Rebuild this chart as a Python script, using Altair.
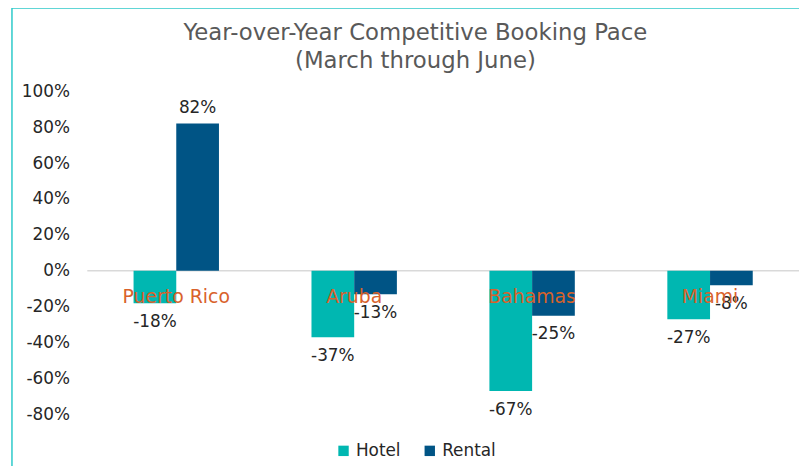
import altair as alt
import pandas as pd

categories = ["Puerto Rico", "Aruba", "Bahamas", "Miami"]
series = ["Hotel", "Rental"]
hotel = [-18, -37, -67, -27]
rental = [82, -13, -25, -8]
colors = ["#00B7B1", "#005485"]
y_ticks = [-80, -60, -40, -20, 0, 20, 40, 60, 80, 100]

rows = []
for c, h, r in zip(categories, hotel, rental):
    rows.append({"cat": c, "series": "Hotel", "value": h, "label": f"{h}%"})
    rows.append({"cat": c, "series": "Rental", "value": r, "label": f"{r}%"})
df = pd.DataFrame(rows)
df["pos"] = df["value"] >= 0
cat_df = pd.DataFrame({"cat": categories, "value": [0] * len(categories)})

W, H = 718, 326
FONT = "DejaVu Sans"
FS = 17

xscale = alt.Scale(domain=categories, paddingInner=0.52, paddingOuter=0.26)
x = alt.X("cat:N", scale=xscale, axis=None, sort=categories)
yaxis = alt.Axis(values=y_ticks, labelExpr="datum.value + '%'", grid=False, domain=False,
                 ticks=False, title=None, labelFontSize=FS, labelOverlap=False,
                 labelColor="#262626", labelFont=FONT, labelPadding=18)
y = alt.Y("value:Q", scale=alt.Scale(domain=[-80, 100], nice=False), axis=yaxis)
xo = alt.XOffset("series:N", sort=series)

bars = alt.Chart(df).mark_bar().encode(
    x=x, xOffset=xo, y=y,
    color=alt.Color("series:N", scale=alt.Scale(domain=series, range=colors),
                    legend=alt.Legend(title=None, orient="none", direction="horizontal",
                                      legendX=250, legendY=354, symbolType="square",
                                      symbolSize=110, labelFontSize=FS, labelFont=FONT,
                                      labelColor="#262626", columnPadding=20,
                                      symbolStrokeWidth=0)),
)

zero = alt.Chart(cat_df.head(1)).mark_rule(color="#D9D9D9", strokeWidth=1.5).encode(y=y)

lab_pos = alt.Chart(df[df["pos"]]).mark_text(fontSize=FS, font=FONT, color="#262626",
                                             baseline="middle", dy=-16).encode(
    x=x, xOffset=xo, y=y, text="label:N")
lab_neg = alt.Chart(df[~df["pos"]]).mark_text(fontSize=FS, font=FONT, color="#262626",
                                              baseline="middle", dy=19).encode(
    x=x, xOffset=xo, y=y, text="label:N")

cat_labels = alt.Chart(cat_df).mark_text(fontSize=19, font=FONT, color="#D9622B",
                                         baseline="middle", dy=26).encode(
    x=x, y=y, text="cat:N")

border_v = alt.Chart(pd.DataFrame({"a": [0]})).mark_rule(color="#2CC9C9", strokeWidth=1.5).encode(
    x=alt.value(-76), y=alt.value(-84), y2=alt.value(H + 60))
border_h = alt.Chart(pd.DataFrame({"a": [0]})).mark_rule(color="#2CC9C9", strokeWidth=1.5).encode(
    x=alt.value(-76), x2=alt.value(W + 10), y=alt.value(-84))

chart = alt.layer(border_v, border_h, zero, bars, lab_pos, lab_neg, cat_labels).properties(
    width=W, height=H,
    title=alt.Title(["Year-over-Year Competitive Booking Pace", "(March through June)"],
                    fontSize=23, font=FONT, fontWeight="normal", color="#595959",
                    anchor="middle", dx=-28, offset=-66, lineHeight=28),
    autosize=alt.AutoSizeParams(type="none"),
    padding={"left": 80, "top": 82, "right": 0, "bottom": 50},
).configure_view(stroke=None)

chart.save("out.html", embed_options={"renderer": "svg", "actions": False})
